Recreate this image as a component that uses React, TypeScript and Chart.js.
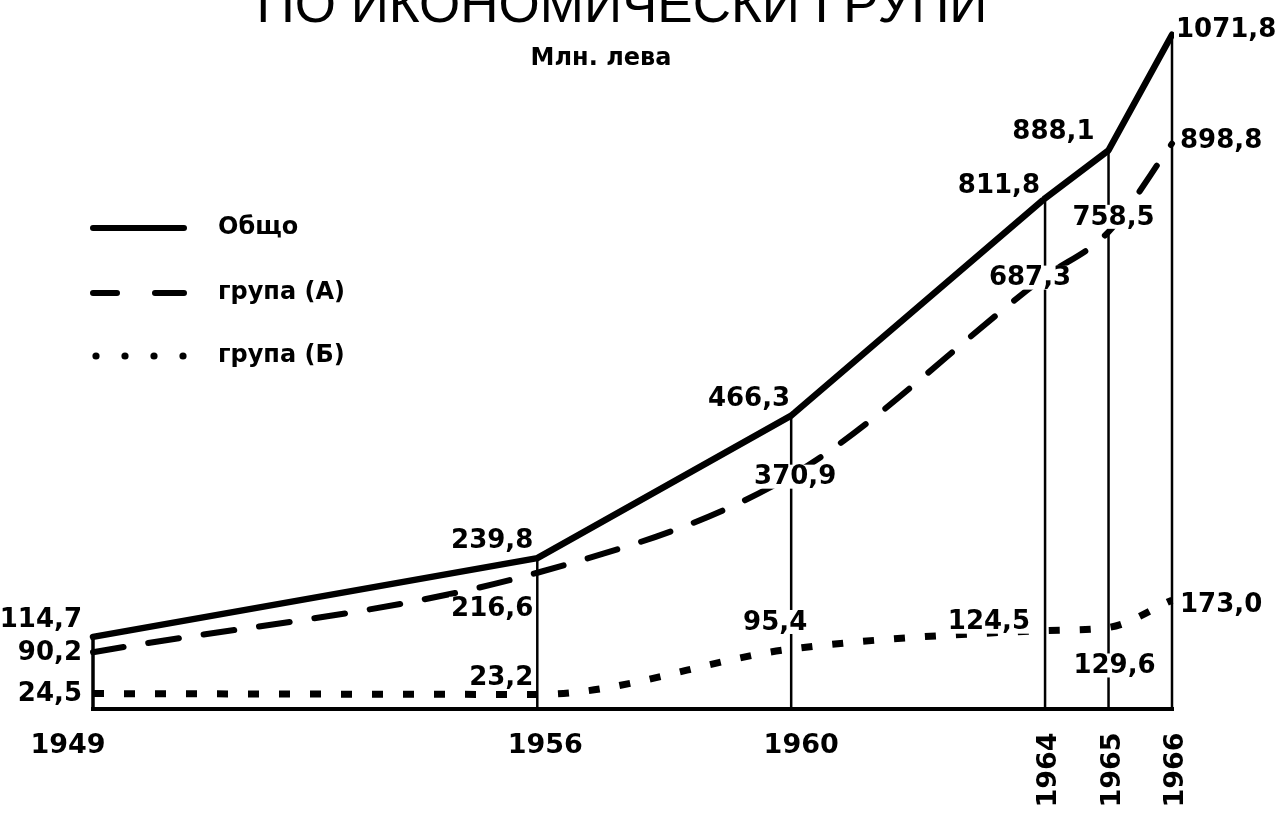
import React, { useEffect, useRef } from "react";
import { Chart, registerables } from "chart.js";

Chart.register(...registerables);

const years = [1949, 1956, 1960, 1964, 1965, 1966];
const total = [114.7, 239.8, 466.3, 811.8, 888.1, 1071.8];
const groupA = [90.2, 216.6, 370.9, 687.3, 758.5, 898.8];
const groupB = [24.5, 23.2, 95.4, 124.5, 129.6, 173.0];
const seriesNames = ["Общо", "група (А)", "група (Б)"];
const titleText = "ПО ИКОНОМИЧЕСКИ ГРУПИ";
const subtitleText = "Млн. лева";
const rotatedYears = [1964, 1965, 1966];

const fmt = (v: number) => v.toFixed(1).replace(".", ",");

// label placement: [dx, dy, align]
const placeTotal: [number, number, CanvasTextAlign][] = [
  [-11, -18, "right"], [-4, -18, "right"], [-1, -17, "right"],
  [-5, -13, "right"], [-14, -19, "right"], [4, -5, "left"],
];
const placeA: [number, number, CanvasTextAlign][] = [
  [-11, 0, "right"], [-4, 36, "right"], [4, 1, "center"],
  [-15, 1, "center"], [5, -15, "center"], [8, -3, "left"],
];
const placeB: [number, number, CanvasTextAlign][] = [
  [-11, 0, "right"], [-4, -17, "right"], [-16, -27, "center"],
  [-15, -9, "right"], [6, 38, "center"], [8, 4, "left"],
];
const yearOffsets: Record<number, number> = { 1949: -25, 1956: 8, 1960: 10 };

const LABEL_FONT = "bold 26px 'DejaVu Sans'";

const decorPlugin = {
  id: "decor",
  beforeDatasetsDraw(chart: any) {
    const { ctx, scales } = chart;
    const xs = scales.x, ys = scales.y;
    ctx.save();
    ctx.strokeStyle = "#000";
    ctx.lineCap = "butt";
    years.forEach((yr, i) => {
      ctx.lineWidth = i === 0 ? 3.5 : 2.5;
      const x = xs.getPixelForValue(yr);
      ctx.beginPath();
      ctx.moveTo(x, ys.getPixelForValue(0));
      ctx.lineTo(x, ys.getPixelForValue(total[i]));
      ctx.stroke();
    });
    ctx.lineWidth = 4;
    ctx.beginPath();
    ctx.moveTo(xs.getPixelForValue(years[0]) - 2, ys.getPixelForValue(0));
    ctx.lineTo(xs.getPixelForValue(years[years.length - 1]) + 2, ys.getPixelForValue(0));
    ctx.stroke();
    ctx.restore();
  },
  afterDatasetsDraw(chart: any) {
    const { ctx, scales } = chart;
    const xs = scales.x, ys = scales.y;
    ctx.save();
    ctx.font = LABEL_FONT;
    ctx.textBaseline = "middle";
    const drawSet = (vals: number[], place: [number, number, CanvasTextAlign][]) => {
      vals.forEach((v, i) => {
        const [dx, dy, al] = place[i];
        const x = xs.getPixelForValue(years[i]) + dx;
        const y = ys.getPixelForValue(v) + dy;
        const t = fmt(v);
        const w = ctx.measureText(t).width;
        let left = x;
        if (al === "right") left = x - w;
        else if (al === "center") left = x - w / 2;
        ctx.fillStyle = "#fff";
        ctx.fillRect(left - 2, y - 12, w + 4, 24);
        ctx.fillStyle = "#000";
        ctx.textAlign = al;
        ctx.fillText(t, x, y + 1);
      });
    };
    drawSet(total, placeTotal);
    drawSet(groupA, placeA);
    drawSet(groupB, placeB);

    ctx.font = "bold 27px 'DejaVu Sans'";
    years.forEach((yr) => {
      const x = xs.getPixelForValue(yr);
      if (rotatedYears.includes(yr)) {
        ctx.save();
        ctx.translate(x + 4, 770);
        ctx.rotate(-Math.PI / 2);
        ctx.textAlign = "center";
        ctx.textBaseline = "middle";
        ctx.fillText(String(yr), 0, 0);
        ctx.restore();
      } else {
        ctx.textAlign = "center";
        ctx.textBaseline = "middle";
        ctx.fillText(String(yr), x + (yearOffsets[yr] || 0), 746);
      }
    });

    ctx.textAlign = "center";
    ctx.textBaseline = "alphabetic";
    ctx.font = "53px 'Liberation Sans'";
    ctx.fillText(titleText, 622, 22);
    ctx.font = "bold 24px 'DejaVu Sans'";
    ctx.fillText(subtitleText, 601, 65);

    const ly = [228, 293, 356];
    ctx.lineWidth = 6;
    ctx.lineCap = "round";
    ctx.beginPath();
    ctx.moveTo(93, ly[0]);
    ctx.lineTo(184, ly[0]);
    ctx.stroke();
    ctx.beginPath();
    ctx.moveTo(93, ly[1]);
    ctx.lineTo(117, ly[1]);
    ctx.moveTo(155, ly[1]);
    ctx.lineTo(184, ly[1]);
    ctx.stroke();
    [96, 125, 154, 183].forEach((dxp) => {
      ctx.beginPath();
      ctx.arc(dxp, ly[2], 3.6, 0, Math.PI * 2);
      ctx.fill();
    });
    ctx.font = "bold 24px 'DejaVu Sans'";
    ctx.textAlign = "left";
    ctx.textBaseline = "middle";
    seriesNames.forEach((n, i) => ctx.fillText(n, 218, ly[i]));
    ctx.restore();
  },
};

export default function App() {
  const ref = useRef<HTMLCanvasElement>(null);
  useEffect(() => {
    if (!ref.current) return;
    const mk = (vals: number[]) => years.map((yr, i) => ({ x: yr, y: vals[i] }));
    const chart = new Chart(ref.current, {
      type: "line",
      data: {
        datasets: [
          {
            label: seriesNames[0],
            data: mk(total),
            borderColor: "#000",
            borderWidth: 6.5,
            borderJoinStyle: "round",
            borderCapStyle: "round",
            pointRadius: 0,
            tension: 0,
            clip: false,
          },
          {
            label: seriesNames[1],
            data: mk(groupA),
            borderColor: "#000",
            borderWidth: 6,
            borderDash: [31, 25],
            borderCapStyle: "round",
            pointRadius: 0,
            cubicInterpolationMode: "monotone",
            clip: false,
          },
          {
            label: seriesNames[2],
            data: mk(groupB),
            borderColor: "#000",
            borderWidth: 7,
            borderDash: [11, 20],
            borderCapStyle: "butt",
            pointRadius: 0,
            cubicInterpolationMode: "monotone",
            clip: false,
          },
        ] as any,
      },
      options: {
        responsive: false,
        animation: false,
        devicePixelRatio: 1,
        layout: { padding: { left: 93, right: 110, top: 17, bottom: 106 } },
        scales: {
          x: { type: "linear", min: 1949, max: 1966, display: false },
          y: { min: 0, max: 1100, display: false },
        },
        plugins: { legend: { display: false }, tooltip: { enabled: false }, title: { display: false } },
      },
      plugins: [decorPlugin],
    });
    return () => chart.destroy();
  }, []);
  return (
    <div style={{ position: "fixed", left: 0, top: 0, width: 1282, height: 815, background: "#fff" }}>
      <canvas ref={ref} width={1282} height={815} />
    </div>
  );
}
